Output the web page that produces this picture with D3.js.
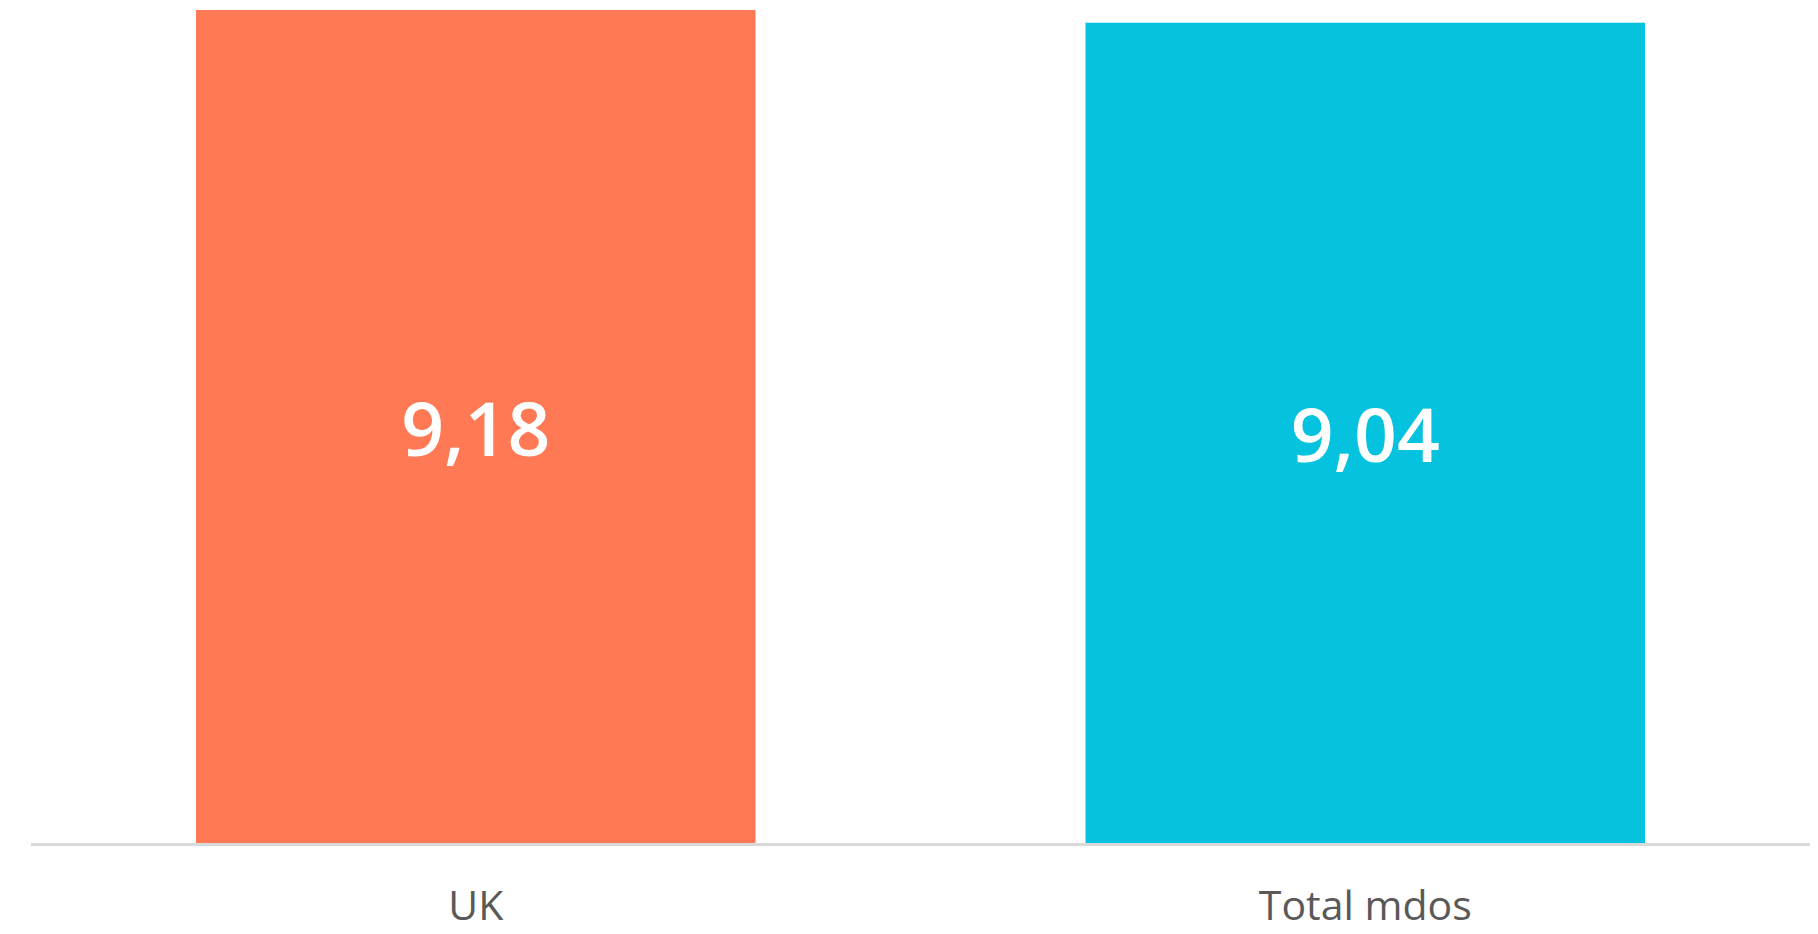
<!DOCTYPE html>
<html>
<head>
<meta charset="utf-8">
<script src="https://cdn.jsdelivr.net/npm/d3@7"></script>
<style>
  body { margin: 0; background: #fff; }
</style>
</head>
<body>
<script>
var categories = ["UK", "Total mdos"];
var values = [9.18, 9.04];
var valueLabels = ["9,18", "9,04"];
var barColors = ["#FF7A54", "#05C3DE"];

var width = 1818,
    height = 934;

var svg = d3.select("body").append("svg")
    .attr("width", width)
    .attr("height", height);

var plotLeft = 31, plotRight = 1810,
    baseline = 843, plotTop = 10;

var x = d3.scaleBand()
    .domain(categories)
    .range([plotLeft, plotRight])
    .paddingInner(0.371)
    .paddingOuter(0.1855);

var y = d3.scaleLinear()
    .domain([0, d3.max(values)])
    .range([baseline, plotTop]);

svg.selectAll(".bar")
    .data(categories)
    .enter()
    .append("rect")
    .attr("class", "bar")
    .attr("x", function (d) { return x(d); })
    .attr("y", function (d, i) { return y(values[i]); })
    .attr("width", x.bandwidth())
    .attr("height", function (d, i) { return baseline - y(values[i]); })
    .attr("fill", function (d, i) { return barColors[i]; });

// value labels, centred in each bar
svg.selectAll(".val")
    .data(categories)
    .enter()
    .append("text")
    .attr("class", "val")
    .attr("x", function (d) { return x(d) + x.bandwidth() / 2; })
    .attr("y", function (d, i) { return (y(values[i]) + baseline) / 2; })
    .attr("text-anchor", "middle")
    .attr("dominant-baseline", "central")
    .attr("fill", "#fff")
    .style("font-family", "'Open Sans', sans-serif")
    .style("font-weight", 600)
    .style("font-size", "75px")
    .text(function (d, i) { return valueLabels[i]; });

// axis line
svg.append("line")
    .attr("x1", plotLeft)
    .attr("x2", plotRight)
    .attr("y1", baseline + 1.5)
    .attr("y2", baseline + 1.5)
    .attr("stroke", "#d9d9d9")
    .attr("stroke-width", 3);

// category labels
svg.selectAll(".cat")
    .data(categories)
    .enter()
    .append("text")
    .attr("class", "cat")
    .attr("x", function (d) { return x(d) + x.bandwidth() / 2; })
    .attr("y", 920)
    .attr("text-anchor", "middle")
    .attr("fill", "#595959")
    .style("font-family", "'Open Sans', sans-serif")
    .style("font-size", "41px")
    .text(function (d) { return d; });
</script>
</body>
</html>
